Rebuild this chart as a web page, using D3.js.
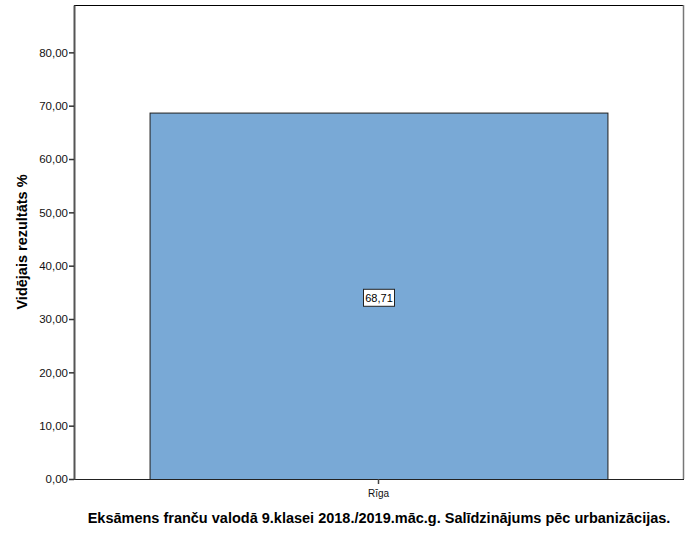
<!DOCTYPE html>
<html><head><meta charset="utf-8">
<script src="https://cdn.jsdelivr.net/npm/d3@7"></script>
<style>body{margin:0;background:#fff;} svg{display:block;font-family:"Liberation Sans",Arial,sans-serif;}</style>
</head><body>
<script>
const categories = ["Rīga"];
const values = [68.71];
const yTicks = [0,10,20,30,40,50,60,70,80];
const yLabel = "Vidējais rezultāts %";
const title = "Eksāmens franču valodā 9.klasei 2018./2019.māc.g. Salīdzinājums pēc urbanizācijas.";

const W = 691, H = 553;
const L = 74, R = 683, T = 5, B = 479;
const svg = d3.select("body").append("svg").attr("width", W).attr("height", H);

const x = d3.scaleBand().domain(categories).range([L, R]).paddingInner(0).paddingOuter(0.165);
const y = d3.scaleLinear().domain([0, 88.88]).range([B, T]);
const fmt = v => d3.format(".2f")(v).replace(".", ",");

// frame
svg.append("line").attr("x1", L).attr("x2", R).attr("y1", T + 0.5).attr("y2", T + 0.5).attr("stroke", "#000");
svg.append("line").attr("x1", R + 0.5).attr("x2", R + 0.5).attr("y1", T).attr("y2", B).attr("stroke", "#777").attr("stroke-width", 1.5);

// bars
svg.selectAll("rect.bar").data(categories).enter().append("rect")
  .attr("class", "bar")
  .attr("x", d => x(d) + 0.5)
  .attr("y", (d, i) => y(values[i]) + 0.5)
  .attr("width", x.bandwidth())
  .attr("height", (d, i) => y(0) - y(values[i]))
  .attr("fill", "#79a9d6").attr("stroke", "#1e1e1e").attr("stroke-width", 1);

// bottom axis line
svg.append("line").attr("x1", L).attr("x2", R + 1).attr("y1", B + 0.5).attr("y2", B + 0.5).attr("stroke", "#222");

// y axis
const ya = svg.append("g").attr("transform", `translate(${L},0)`)
  .call(d3.axisLeft(y).tickValues(yTicks).tickFormat(fmt).tickSize(5).tickSizeOuter(0));
ya.select(".domain").attr("stroke", "#555").attr("stroke-width", 2);
ya.selectAll(".tick line").attr("stroke", "#333").attr("stroke-width", 1.5);
ya.selectAll(".tick text").attr("font-size", 11.5).attr("fill", "#111").attr("x", -6)
  .attr("font-family", "'Liberation Sans', Arial, sans-serif");

// x axis
const xa = svg.append("g").attr("transform", `translate(0,${B})`)
  .call(d3.axisBottom(x).tickSize(5).tickSizeOuter(0));
xa.select(".domain").remove();
xa.selectAll(".tick line").attr("stroke", "#444").attr("stroke-width", 1.5);
xa.selectAll(".tick text").attr("font-size", 10).attr("fill", "#111").attr("dy", "0.95em")
  .attr("font-family", "'Liberation Sans', Arial, sans-serif");

// data labels
categories.forEach((c, i) => {
  const cx = x(c) + x.bandwidth() / 2 + 0.5;
  const cy = y(values[i] / 2) + 2;
  const g = svg.append("g");
  g.append("rect").attr("x", cx - 15.5).attr("y", cy - 8.5).attr("width", 31).attr("height", 17)
    .attr("fill", "#fff").attr("stroke", "#222");
  g.append("text").attr("x", cx).attr("y", cy + 4).attr("text-anchor", "middle")
    .attr("font-size", 11).attr("fill", "#000").text(fmt(values[i]));
});

// y label
svg.append("text").attr("transform", `translate(27,${(T + B) / 2 + 0}) rotate(-90)`)
  .attr("text-anchor", "middle").attr("font-size", 14.5).attr("font-weight", "bold").text(yLabel);

// title
svg.append("text").attr("x", 379).attr("y", 523).attr("text-anchor", "middle")
  .attr("font-size", 14.5).attr("font-weight", "bold").text(title);
</script>
</body></html>
